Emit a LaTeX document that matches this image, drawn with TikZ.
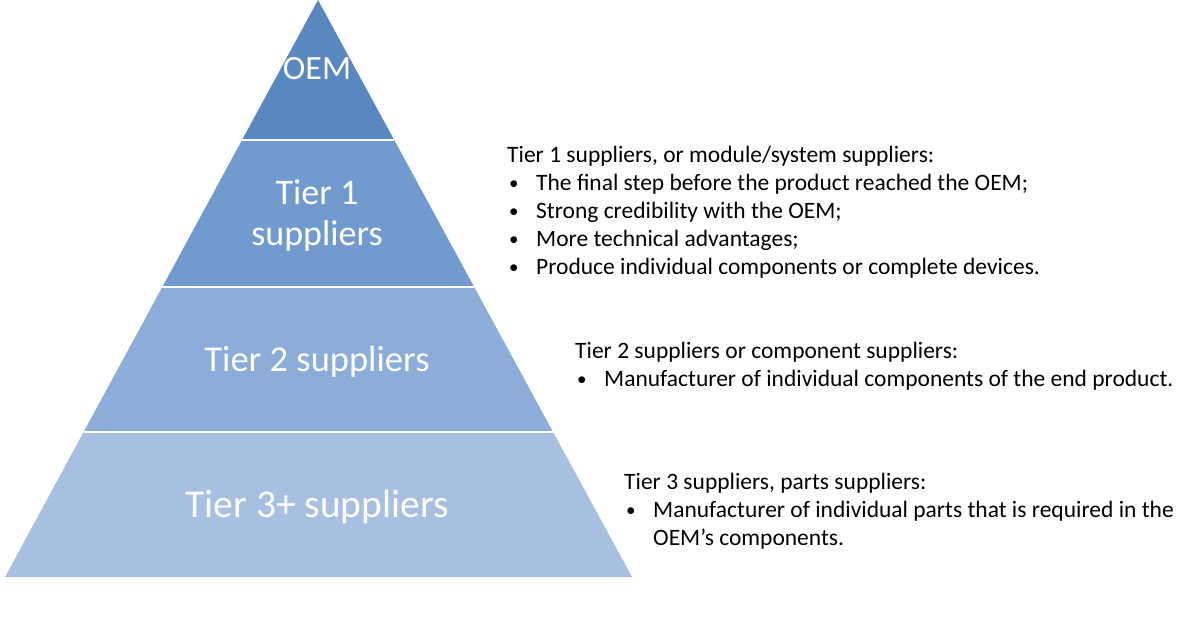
\documentclass[tikz,border=0pt]{standalone}
\usepackage{fontspec}
\setmainfont{Carlito}
\definecolor{oemc}{RGB}{89,136,193}
\definecolor{tonec}{RGB}{113,154,206}
\definecolor{ttwoc}{RGB}{140,173,217}
\definecolor{tthreec}{RGB}{167,191,225}
\tikzset{
  tierlabel/.style={text=white, align=center, anchor=base, inner sep=0pt},
  desc/.style={anchor=base west, inner sep=0pt, font=\fontsize{23.5}{28}\selectfont, text=black},
  bul/.style={anchor=base west, inner sep=0pt, font=\fontsize{19}{28}\selectfont, text=black},
  sep/.style={white, line width=1.6pt}
}
\begin{document}
\begin{tikzpicture}[x=1pt,y=-1pt]
\useasboundingbox (0,0) rectangle (1190,617);
% pyramid layers
\fill[oemc] (318,0) -- (394.2,140) -- (242.0,140) -- cycle;
\fill[tonec] (242.0,140) -- (394.2,140) -- (474.2,287) -- (162.3,287) -- cycle;
\fill[ttwoc] (162.3,287) -- (474.2,287) -- (553.1,432) -- (83.6,432) -- cycle;
\fill[tthreec] (83.6,432) -- (553.1,432) -- (632,577) -- (5,577) -- cycle;
\draw[sep] (242.0,140) -- (394.2,140);
\draw[sep] (162.3,287) -- (474.2,287);
\draw[sep] (83.6,432) -- (553.1,432);
% labels
\node[tierlabel, font=\fontsize{34}{36}\selectfont] (oem) at (317,80) {OEM};
\node[tierlabel, font=\fontsize{36}{42}\selectfont] (t1a) at (317,205) {Tier 1};
\node[tierlabel, font=\fontsize{36}{42}\selectfont] (t1b) at (317,246) {suppliers};
\node[tierlabel, font=\fontsize{36.5}{42}\selectfont] (t2) at (317,371) {Tier 2 suppliers};
\node[tierlabel, font=\fontsize{39.5}{42}\selectfont] (t3) at (317,517) {Tier 3+ suppliers};
% tier 1 description
\node[desc] (d1) at (507,163) {Tier 1 suppliers, or module/system suppliers:};
\node[bul] (d1b1) at (509,190) {•};
\node[desc] (d1t1) at (536,191) {The final step before the product reached the OEM;};
\node[bul] (d1b2) at (509,218) {•};
\node[desc] (d1t2) at (536,219) {Strong credibility with the OEM;};
\node[bul] (d1b3) at (509,246) {•};
\node[desc] (d1t3) at (536,247) {More technical advantages;};
\node[bul] (d1b4) at (509,274) {•};
\node[desc] (d1t4) at (536,275) {Produce individual components or complete devices.};
% tier 2 description
\node[desc] (d2) at (575,358) {Tier 2 suppliers or component suppliers:};
\node[bul] (d2b1) at (577,385) {•};
\node[desc] (d2t1) at (604,386) {Manufacturer of individual components of the end product.};
% tier 3 description
\node[desc] (d3) at (624,489) {Tier 3 suppliers, parts suppliers:};
\node[bul] (d3b1) at (626,516) {•};
\node[desc] (d3t1) at (653,517) {Manufacturer of individual parts that is required in the};
\node[desc] (d3t2) at (653,545) {OEM’s components.};
\end{tikzpicture}
\end{document}
